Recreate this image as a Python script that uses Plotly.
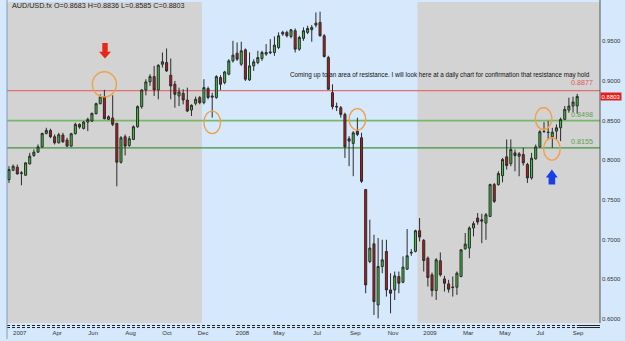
import plotly.graph_objects as go
import pandas as pd

# ---------------- data ----------------
symbol = "AUD/USD.fx"
weeks = list(pd.date_range("2007-02-11", periods=138, freq="W"))

opens = [0.7755, 0.7873, 0.7911, 0.7831, 0.7810, 0.7953, 0.8059, 0.8101, 0.8168, 0.8337,
         0.8375, 0.8295, 0.8219, 0.8316, 0.8253, 0.8177, 0.8333, 0.8451, 0.8400, 0.8480,
         0.8493, 0.8585, 0.8712, 0.8800, 0.8514, 0.8531, 0.8463, 0.7974, 0.8295, 0.8185,
         0.8261, 0.8421, 0.8674, 0.8885, 0.8986, 0.9053, 0.8885, 0.9209, 0.9230, 0.9070,
         0.8956, 0.8809, 0.8842, 0.8758, 0.8632, 0.8716, 0.8788, 0.8725, 0.8902, 0.8809,
         0.8788, 0.9041, 0.8977, 0.9083, 0.9251, 0.9348, 0.9209, 0.9390, 0.9011, 0.9188,
         0.9230, 0.9281, 0.9336, 0.9353, 0.9357, 0.9420, 0.9589, 0.9610, 0.9559, 0.9631,
         0.9399, 0.9534, 0.9610, 0.9643, 0.9702, 0.9736, 0.9567, 0.9294, 0.8851, 0.8678,
         0.8661, 0.8577, 0.8270, 0.8211, 0.8366, 0.8282, 0.7629, 0.6723, 0.6946, 0.6175,
         0.6660, 0.6849, 0.6365, 0.6365, 0.6533, 0.6462, 0.6626, 0.6829, 0.6850, 0.7111,
         0.6989, 0.6765, 0.6555, 0.6357, 0.6732, 0.6504, 0.6441, 0.6403, 0.6399, 0.6534,
         0.6883, 0.6892, 0.7145, 0.7271, 0.7249, 0.7207, 0.7291, 0.7692, 0.7692, 0.7805,
         0.8042, 0.7957, 0.8092, 0.8050, 0.8071, 0.7945, 0.7776, 0.8016, 0.8168, 0.8364,
         0.8353, 0.8294, 0.8366, 0.8408, 0.8514, 0.8631, 0.8682, 0.8683]
highs = [0.7924, 0.7945, 0.7945, 0.7861, 0.7974, 0.8092, 0.8135, 0.8198, 0.8345, 0.8408,
         0.8396, 0.8324, 0.8345, 0.8345, 0.8282, 0.8345, 0.8472, 0.8463, 0.8493, 0.8535,
         0.8598, 0.8724, 0.8830, 0.8885, 0.8564, 0.8817, 0.8472, 0.8303, 0.8324, 0.8303,
         0.8438, 0.8691, 0.8893, 0.9019, 0.9083, 0.9188, 0.9209, 0.9357, 0.9407, 0.9281,
         0.8998, 0.8914, 0.8893, 0.8914, 0.8703, 0.8800, 0.8809, 0.9020, 0.8927, 0.8851,
         0.9070, 0.9070, 0.9125, 0.9272, 0.9504, 0.9483, 0.9492, 0.9407, 0.9357, 0.9272,
         0.9378, 0.9378, 0.9462, 0.9525, 0.9559, 0.9610, 0.9631, 0.9631, 0.9652, 0.9660,
         0.9567, 0.9673, 0.9694, 0.9702, 0.9862, 0.9871, 0.9589, 0.9315, 0.8956, 0.8725,
         0.8682, 0.8598, 0.8303, 0.8366, 0.8535, 0.8345, 0.7637, 0.7250, 0.7060, 0.7018,
         0.6997, 0.6997, 0.6575, 0.6596, 0.6596, 0.6787, 0.7132, 0.6879, 0.7124, 0.7271,
         0.7006, 0.6787, 0.6584, 0.6765, 0.6837, 0.6542, 0.6492, 0.6534, 0.6597, 0.6879,
         0.7082, 0.7166, 0.7229, 0.7334, 0.7325, 0.7334, 0.7704, 0.7713, 0.7860, 0.8029,
         0.8261, 0.8261, 0.8134, 0.8101, 0.8155, 0.7966, 0.8092, 0.8197, 0.8379, 0.8480,
         0.8492, 0.8408, 0.8450, 0.8535, 0.8682, 0.8787, 0.8800, 0.8836]
lows = [0.7713, 0.7861, 0.7818, 0.7684, 0.7806, 0.7945, 0.8042, 0.8092, 0.8156, 0.8324,
        0.8278, 0.8198, 0.8210, 0.8219, 0.8168, 0.8168, 0.8324, 0.8396, 0.8387, 0.8366,
        0.8480, 0.8577, 0.8703, 0.8514, 0.8505, 0.8429, 0.7671, 0.7957, 0.8059, 0.8168,
        0.8253, 0.8408, 0.8649, 0.8817, 0.8935, 0.8809, 0.8767, 0.9167, 0.9112, 0.8767,
        0.8661, 0.8682, 0.8703, 0.8606, 0.8556, 0.8691, 0.8704, 0.8704, 0.8767, 0.8535,
        0.8775, 0.8885, 0.8956, 0.9070, 0.9230, 0.9251, 0.9188, 0.8998, 0.8998, 0.9125,
        0.9209, 0.9251, 0.9315, 0.9336, 0.9315, 0.9399, 0.9567, 0.9546, 0.9534, 0.9357,
        0.9378, 0.9504, 0.9589, 0.9492, 0.9673, 0.9559, 0.9294, 0.8885, 0.8640, 0.8619,
        0.8535, 0.8029, 0.7924, 0.7798, 0.8303, 0.7713, 0.6323, 0.6702, 0.6049, 0.6007,
        0.6575, 0.6281, 0.6070, 0.6238, 0.6323, 0.6449, 0.6618, 0.6795, 0.6837, 0.6976,
        0.6597, 0.6407, 0.6281, 0.6239, 0.6534, 0.6344, 0.6331, 0.6281, 0.6302, 0.6525,
        0.6871, 0.6765, 0.7039, 0.7187, 0.6954, 0.6996, 0.7283, 0.7460, 0.7679, 0.7721,
        0.7881, 0.7924, 0.7860, 0.7797, 0.7932, 0.7713, 0.7755, 0.8008, 0.8155, 0.8345,
        0.8261, 0.8155, 0.8261, 0.8240, 0.8505, 0.8598, 0.8606, 0.8585]
closes = [0.7882, 0.7924, 0.7827, 0.7840, 0.7966, 0.8050, 0.8101, 0.8168, 0.8337, 0.8375,
          0.8295, 0.8219, 0.8320, 0.8231, 0.8177, 0.8333, 0.8451, 0.8417, 0.8480, 0.8514,
          0.8590, 0.8712, 0.8800, 0.8522, 0.8547, 0.8451, 0.7974, 0.8282, 0.8177, 0.8270,
          0.8421, 0.8674, 0.8885, 0.8986, 0.9053, 0.8885, 0.9196, 0.9239, 0.9125, 0.8935,
          0.8830, 0.8859, 0.8758, 0.8619, 0.8691, 0.8767, 0.8725, 0.8914, 0.8788, 0.8796,
          0.9053, 0.8956, 0.9112, 0.9251, 0.9323, 0.9272, 0.9378, 0.9020, 0.9188, 0.9239,
          0.9293, 0.9357, 0.9357, 0.9361, 0.9450, 0.9567, 0.9610, 0.9567, 0.9643, 0.9399,
          0.9546, 0.9631, 0.9660, 0.9673, 0.9727, 0.9567, 0.9306, 0.8893, 0.8674, 0.8670,
          0.8577, 0.8168, 0.8240, 0.8345, 0.8324, 0.7734, 0.6428, 0.6892, 0.6217, 0.6660,
          0.6744, 0.6365, 0.6323, 0.6542, 0.6449, 0.6652, 0.6795, 0.6837, 0.7111, 0.7031,
          0.6736, 0.6521, 0.6357, 0.6744, 0.6555, 0.6449, 0.6374, 0.6395, 0.6576, 0.6871,
          0.6942, 0.7145, 0.7200, 0.7221, 0.7232, 0.7312, 0.7692, 0.7481, 0.7831, 0.8008,
          0.7932, 0.8134, 0.8058, 0.8080, 0.7966, 0.7776, 0.8025, 0.8168, 0.8358, 0.8360,
          0.8349, 0.8353, 0.8408, 0.8514, 0.8640, 0.8682, 0.8733, 0.8803]

levels = [0.8877, 0.8498, 0.8155]
level_colors = ["#e07070", "#78b86c", "#3f953f"]

y_ticks = [0.60, 0.65, 0.70, 0.75, 0.80, 0.85, 0.90, 0.95]
x_tick_pos = [2.6, 11.6, 20.3, 29.3, 38.1, 46.8, 56.3, 65.1, 74.3, 83.5, 92.6,
              101.5, 110.7, 119.6, 128.1, 137.2]
x_tick_text = ["2007", "Apr", "Jun", "Aug", "Oct", "Dec", "2008", "May", "Jul", "Sep",
               "Nov", "2009", "Mar", "May", "Jul", "Sep"]

comment = ("Coming up to an area of resistance. I will look here at a daily chart "
           "for confirmation that resistance may hold")

# ---------------- figure ----------------
N = len(closes)
xs = list(range(N))
XR = [-0.48, 142.5]
YR = [0.5948, 0.9993]
GRAY = "#d3d3d3"
BLUE = "#d6e8fb"
FONT = "Liberation Sans"

fig = go.Figure()
fig.add_trace(go.Candlestick(
    x=xs, open=opens, high=highs, low=lows, close=closes,
    increasing=dict(line=dict(color="#2b2b2b", width=1), fillcolor="#3cc83c"),
    decreasing=dict(line=dict(color="#2b2b2b", width=1), fillcolor="#c01818"),
    whiskerwidth=0, showlegend=False, hoverinfo="skip"))

shapes = []
# year shading (alternate years grey)
years = [d.year for d in weeks]
bounds = [i - 0.5 for i in range(1, N) if years[i] != years[i - 1]]
edges = [XR[0]] + bounds + [XR[1]]
for k in range(len(edges) - 1):
    if k % 2 == 0:
        shapes.append(dict(type="rect", xref="x", yref="paper", x0=edges[k], x1=edges[k + 1],
                           y0=0, y1=1, fillcolor=GRAY, line=dict(width=0), layer="below"))
# levels
for lv, col, w in zip(levels, level_colors, [1.3, 1.6, 1.1]):
    shapes.append(dict(type="line", xref="paper", yref="y", x0=0, x1=1, y0=lv, y1=lv,
                       line=dict(color=col, width=w), layer="below"))
# circles
circles = [(20.1, 25.9, 0.8798, 0.9114), (47.0, 51.0, 0.8334, 0.8618),
           (82.0, 86.0, 0.8379, 0.8649), (126.9, 130.9, 0.8387, 0.8661),
           (128.9, 132.9, 0.7999, 0.8283)]
for x0, x1, y0, y1 in circles:
    shapes.append(dict(type="circle", xref="x", yref="y", x0=x0, x1=x1, y0=y0, y1=y1,
                       line=dict(color="#f0a048", width=1.4)))
# arrows
shapes.append(dict(type="path", xref="x", yref="y",
                   path="M 22.5,0.9475 L 23.8,0.9475 L 23.8,0.9365 L 24.6,0.9365 "
                        "L 23.15,0.9281 L 21.7,0.9365 L 22.5,0.9365 Z",
                   fillcolor="#e8261a", line=dict(width=0)))
shapes.append(dict(type="path", xref="x", yref="y",
                   path="M 130.9,0.7882 L 132.3,0.7781 L 131.7,0.7781 L 131.7,0.7692 "
                        "L 130.1,0.7692 L 130.1,0.7781 L 129.45,0.7781 Z",
                   fillcolor="#1a3ee6", line=dict(width=0)))
# bottom double dashed rule
for yy in [-0.0078, -0.0141]:
    shapes.append(dict(type="line", xref="paper", yref="paper", x0=0, x1=0.961, y0=yy, y1=yy,
                       line=dict(color="#222", width=1, dash="3px,2px")))
    shapes.append(dict(type="line", xref="paper", yref="paper", x0=0.961, x1=1, y0=yy, y1=yy,
                       line=dict(color="#222", width=1)))
# borders
shapes.append(dict(type="line", xref="paper", yref="paper", x0=0, x1=0, y0=-0.05, y1=1.01,
                   line=dict(color="#7f9cbd", width=1)))
shapes.append(dict(type="line", xref="paper", yref="paper", x0=1, x1=1, y0=0, y1=1.01,
                   line=dict(color="#555", width=1)))

annotations = []
annotations.append(dict(xref="paper", yref="paper", x=0.005, y=0.9906, xanchor="left",
                        yanchor="middle", showarrow=False,
                        text=f"{symbol} O={opens[-1]:.4f} H={highs[-1]:.4f} "
                             f"L={lows[-1]:.4f} C={closes[-1]:.4f}",
                        font=dict(family=FONT, size=7.2, color="#222")))
annotations.append(dict(xref="paper", yref="paper", x=0.9865, y=0.7728, xanchor="right",
                        yanchor="middle", showarrow=False, text=comment,
                        font=dict(family=FONT, size=6.3, color="#111")))
for lv, col, ys in zip(levels, ["#e05858", "#5f9f52", "#5f9f52"], [1.5, 0, 0]):
    annotations.append(dict(xref="paper", yref="y", x=0.9916, y=lv, xanchor="right",
                            yanchor="bottom", yshift=ys, showarrow=False, text=f"{lv:.4f}",
                            font=dict(family=FONT, size=7.2, color=col)))
annotations.append(dict(xref="paper", yref="y", x=1.0, y=closes[-1], xanchor="left",
                        yanchor="middle", showarrow=False, text=f"{closes[-1]:.4f}",
                        bgcolor="#e2201c", borderpad=0.6,
                        font=dict(family=FONT, size=6, color="white")))

fig.update_layout(
    width=625, height=341,
    margin=dict(l=7, r=25, t=2, b=18),
    paper_bgcolor=BLUE, plot_bgcolor=BLUE,
    shapes=shapes, annotations=annotations,
    font=dict(family=FONT, size=6, color="#333"),
    xaxis=dict(range=XR, rangeslider=dict(visible=False), showgrid=False, zeroline=False,
               tickmode="array", tickvals=x_tick_pos, ticktext=x_tick_text, ticks="",
               ticklabelstandoff=5, tickfont=dict(family=FONT, size=6, color="#333"),
               fixedrange=True),
    yaxis=dict(range=YR, side="right", showgrid=False, zeroline=False, ticks="",
               tickmode="array", tickvals=y_ticks, ticktext=[f"{v:.4f}" for v in y_ticks],
               ticklabelstandoff=1, tickfont=dict(family=FONT, size=6, color="#333"),
               fixedrange=True),
)

fig.write_html("out.html")
